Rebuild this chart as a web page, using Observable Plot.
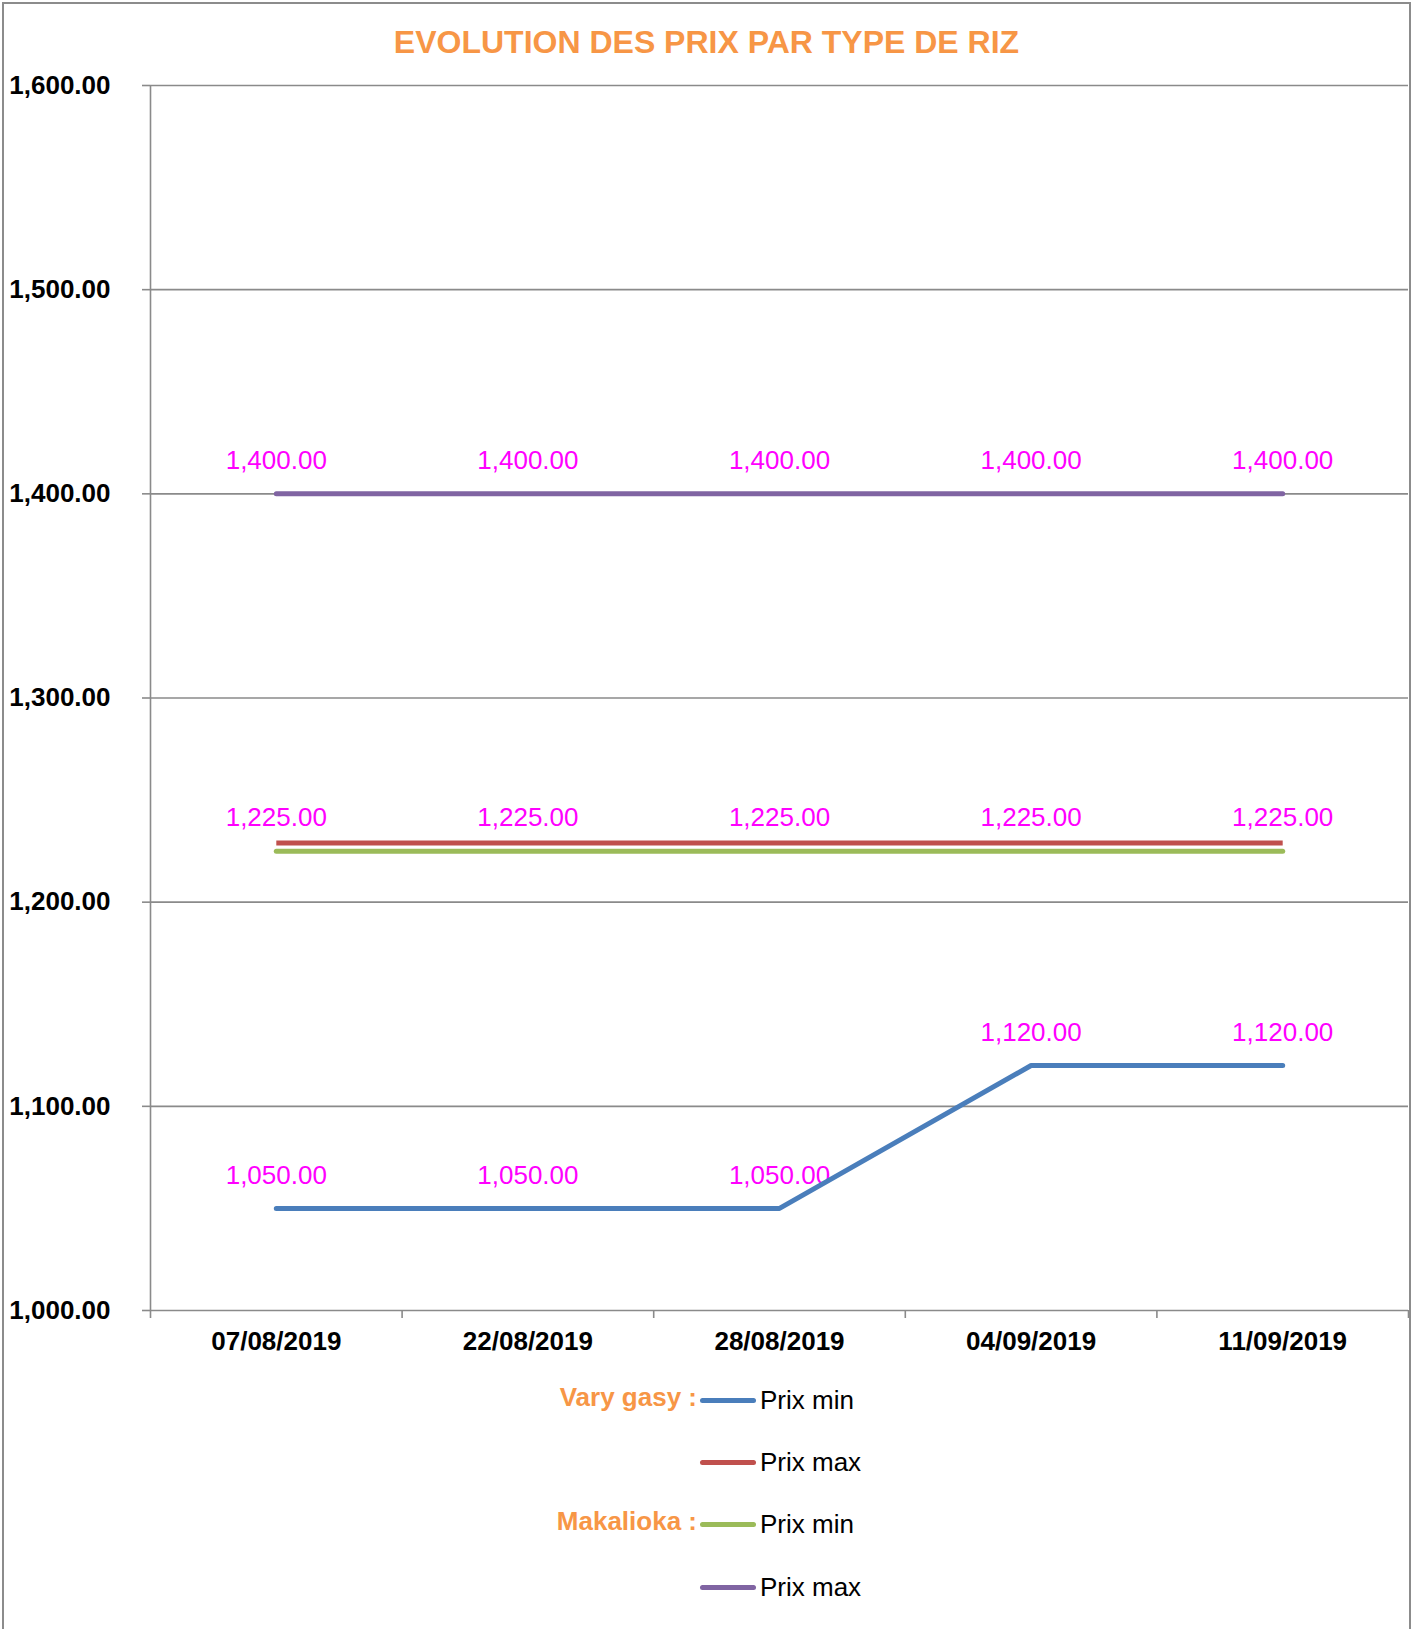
<!DOCTYPE html>
<html>
<head>
<meta charset="utf-8">
<script src="https://cdn.jsdelivr.net/npm/d3@7"></script>
<script src="https://cdn.jsdelivr.net/npm/@observablehq/plot@0.6"></script>
<style>
  html, body { margin: 0; padding: 0; background: #fff; }
  body { width: 1413px; height: 1629px; position: relative; overflow: hidden; font-family: "Liberation Sans", Arial, sans-serif; }
  #frame { position: absolute; left: 2px; top: 2px; width: 1405px; height: 1700px; border: 2px solid #8c8c8c; }
  #title { position: absolute; left: 0; width: 1413px; top: 22px; text-align: center; font-size: 32px; line-height: 40px; font-weight: bold; color: #f79646; }
  #chart { position: absolute; left: 0; top: 0; }
  .leg { position: absolute; font-size: 26px; line-height: 30px; }
  .grp { position: absolute; right: 716px; font-size: 26px; line-height: 30px; font-weight: bold; color: #f79646; white-space: nowrap; }
  .sw { position: absolute; left: 700px; width: 56px; height: 5px; border-radius: 3px; }
  .lab { position: absolute; left: 760px; font-size: 26px; line-height: 30px; color: #000; white-space: nowrap; }
</style>
</head>
<body>
<div id="frame"></div>
<div id="title">EVOLUTION DES PRIX PAR TYPE DE RIZ</div>
<div id="chart"></div>
<div id="legend"></div>
<script>
const dates = ["07/08/2019", "22/08/2019", "28/08/2019", "04/09/2019", "11/09/2019"];
const varyGasyMin = [1050, 1050, 1050, 1120, 1120];
const varyGasyMax = [1229, 1229, 1229, 1229, 1229];
const makaliokaMin = [1225, 1225, 1225, 1225, 1225];
const makaliokaMax = [1400, 1400, 1400, 1400, 1400];
const yTicks = [1000, 1100, 1200, 1300, 1400, 1500, 1600];
const seriesNames = ["Prix min", "Prix max", "Prix min", "Prix max"];
const groupNames = ["Vary gasy :", "", "Makalioka :", ""];
const colors = ["#4a7ebb", "#c0504d", "#9bbb59", "#8064a2"];

const fmt = d3.format(",.2f");
const idx = dates.map((d, i) => i);
const bounds = [-0.5, 0.5, 1.5, 2.5, 3.5, 4.5];
const toRows = (vals) => vals.map((v, i) => ({i, v}));
const allSeries = [varyGasyMin, varyGasyMax, makaliokaMin, makaliokaMax].map(toRows);
const labelled = [allSeries[0], allSeries[2], allSeries[3]];
const grid = "#8a8a8a";

const chart = Plot.plot({
  width: 1413,
  height: 1370,
  marginLeft: 150,
  marginRight: 5,
  marginTop: 85,
  marginBottom: 60,
  style: {fontFamily: "'Liberation Sans', Arial, sans-serif", fontSize: "26px", color: "#000", background: "transparent", overflow: "visible"},
  x: {type: "linear", domain: [-0.5, 4.5], axis: null},
  y: {domain: [1000, 1600], axis: null},
  marks: [
    Plot.ruleY(yTicks, {stroke: grid, strokeWidth: 1.6}),
    Plot.ruleX([-0.5], {stroke: grid, strokeWidth: 1.6}),
    Plot.axisY({ticks: yTicks, label: null, tickSize: 8, tickPadding: 32, tickFormat: fmt, stroke: grid, strokeWidth: 1.6, fontWeight: "bold", fontSize: 26, fill: "#000"}),
    Plot.axisX({ticks: bounds, label: null, tickSize: 8, tickFormat: () => "", stroke: grid, strokeWidth: 1.6}),
    Plot.text(idx, {x: d => d, text: d => dates[d], frameAnchor: "bottom", dy: 39, fontWeight: "bold", fontSize: 26, fill: "#000"}),
    ...labelled.map(s => Plot.text(s, {x: "i", y: "v", text: d => fmt(d.v), dy: -33, fill: "#ff00ff", fontSize: 26})),
    Plot.line(allSeries[0], {x: "i", y: "v", stroke: colors[0], strokeWidth: 5, strokeLinecap: "round", strokeLinejoin: "round"}),
    Plot.line(allSeries[1], {x: "i", y: "v", stroke: colors[1], strokeWidth: 5, strokeLinecap: "butt"}),
    Plot.line(allSeries[2], {x: "i", y: "v", stroke: colors[2], strokeWidth: 5, strokeLinecap: "round"}),
    Plot.line(allSeries[3], {x: "i", y: "v", stroke: colors[3], strokeWidth: 5, strokeLinecap: "round"})
  ]
});
document.getElementById("chart").appendChild(chart);

const legend = document.getElementById("legend");
const rowY = [1400, 1462, 1524, 1587];
seriesNames.forEach((name, k) => {
  if (groupNames[k]) {
    const g = document.createElement("div");
    g.className = "grp"; g.textContent = groupNames[k];
    g.style.top = (rowY[k] - 18) + "px";
    legend.appendChild(g);
  }
  const sw = document.createElement("div");
  sw.className = "sw"; sw.style.background = colors[k];
  sw.style.top = (rowY[k] - 2.5) + "px";
  legend.appendChild(sw);
  const l = document.createElement("div");
  l.className = "lab"; l.textContent = name;
  l.style.top = (rowY[k] - 15) + "px";
  legend.appendChild(l);
});
</script>
</body>
</html>
